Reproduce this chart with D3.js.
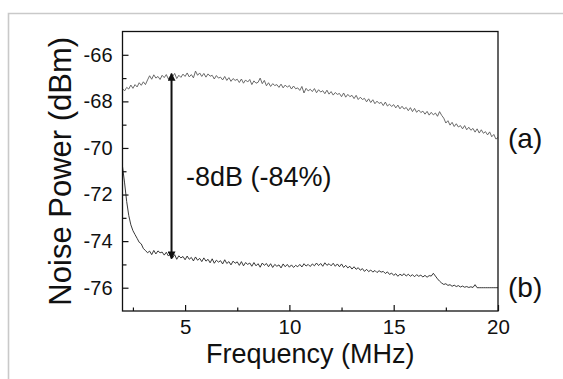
<!DOCTYPE html>
<html><head><meta charset="utf-8">
<script src="https://cdn.jsdelivr.net/npm/d3@7/dist/d3.min.js"></script>
<style>
html,body{margin:0;padding:0;background:#fff;}
text{font-family:"Liberation Sans",Arial,Helvetica,sans-serif;fill:#111;}
</style></head>
<body><svg id="c" width="563" height="379"></svg>
<script>
// ---- data ----
const xDomain = [2, 20];
const yDomain = [-77, -65];
const xTicks = [5, 10, 15, 20];
const xMinorTicks = [2.5, 7.5, 12.5, 17.5];
const yTicks = [-66, -68, -70, -72, -74, -76];
const yMinorTicks = [-67, -69, -71, -73, -75];
const freqStart = 2.0, freqStep = 0.1; // sample grid of the traces (MHz)
const seriesA = [
-67.45,-67.55,-67.40,-67.47,-67.30,-67.44,-67.28,-67.38,-67.20,-67.31,
-67.16,-67.28,-67.08,-66.90,-67.05,-66.86,-67.00,-66.93,-67.06,-66.88,
-66.98,-66.85,-67.04,-66.90,-66.94,-66.80,-67.02,-66.88,-66.97,-66.83,
-66.93,-66.78,-66.95,-66.85,-66.99,-66.70,-66.88,-66.78,-66.93,-66.80,
-66.96,-66.82,-66.92,-66.88,-67.04,-66.89,-67.00,-66.96,-67.08,-66.93,
-67.10,-66.98,-67.14,-67.02,-67.10,-67.05,-67.19,-67.04,-67.22,-67.08,
-67.17,-67.06,-67.28,-67.12,-67.22,-67.18,-67.00,-67.24,-67.10,-67.33,
-67.20,-67.36,-67.24,-67.32,-67.28,-67.40,-67.26,-67.42,-67.30,-67.39,
-67.32,-67.47,-67.34,-67.46,-67.42,-67.53,-67.36,-67.64,-67.44,-67.55,
-67.48,-67.58,-67.45,-67.63,-67.50,-67.60,-67.54,-67.67,-67.52,-67.69,
-67.58,-67.73,-67.62,-67.70,-67.66,-67.80,-67.64,-67.82,-67.70,-67.80,
-67.74,-67.88,-67.74,-67.92,-67.82,-67.92,-67.87,-68.02,-67.89,-68.05,
-67.93,-68.10,-67.99,-68.09,-68.04,-68.18,-68.03,-68.20,-68.12,-68.22,
-68.14,-68.28,-68.16,-68.32,-68.21,-68.33,-68.26,-68.40,-68.27,-68.44,
-68.30,-68.47,-68.37,-68.48,-68.42,-68.55,-68.43,-68.59,-68.47,-68.58,
-68.50,-68.64,-68.44,-68.60,-68.72,-68.93,-68.83,-69.02,-68.90,-69.08,
-68.96,-69.10,-69.04,-69.18,-69.04,-69.22,-69.11,-69.24,-69.16,-69.32,
-69.18,-69.36,-69.22,-69.37,-69.30,-69.44,-69.31,-69.52,-69.42,-69.62,
-69.55];
const seriesB = [
-70.80,-71.50,-72.30,-72.90,-73.30,-73.55,-73.72,-73.88,-74.05,-74.12,
-74.32,-74.40,-74.50,-74.43,-74.58,-74.40,-74.55,-74.42,-74.50,-74.47,
-74.60,-74.48,-74.64,-74.55,-74.72,-74.58,-74.78,-74.63,-74.72,-74.66,
-74.80,-74.64,-74.78,-74.70,-74.85,-74.68,-74.82,-74.74,-74.88,-74.72,
-74.86,-74.78,-74.93,-74.76,-74.95,-74.82,-74.90,-74.84,-74.98,-74.80,
-74.96,-74.88,-75.02,-74.86,-74.95,-74.89,-75.04,-74.88,-75.06,-74.92,
-75.00,-74.94,-75.08,-74.92,-75.06,-74.97,-75.12,-74.94,-75.04,-74.96,
-75.10,-74.97,-75.13,-75.00,-75.08,-75.02,-75.15,-74.98,-75.10,-75.00,
-75.12,-75.02,-75.13,-75.04,-75.10,-75.00,-75.11,-74.97,-75.07,-75.00,
-75.09,-74.98,-75.06,-74.94,-75.05,-74.96,-75.08,-74.93,-75.04,-74.97,
-75.06,-74.95,-75.08,-74.98,-75.10,-74.98,-75.13,-75.04,-75.15,-75.08,
-75.20,-75.10,-75.21,-75.14,-75.25,-75.18,-75.30,-75.21,-75.31,-75.24,
-75.33,-75.26,-75.35,-75.27,-75.33,-75.30,-75.39,-75.32,-75.43,-75.37,
-75.47,-75.40,-75.51,-75.42,-75.48,-75.40,-75.50,-75.42,-75.51,-75.44,
-75.53,-75.44,-75.51,-75.46,-75.54,-75.47,-75.55,-75.48,-75.50,-75.38,
-75.50,-75.62,-75.72,-75.80,-75.86,-75.83,-75.90,-75.87,-75.94,-75.89,
-75.95,-75.91,-75.97,-75.93,-75.98,-75.95,-75.99,-75.96,-75.99,-75.87,
-76.00,-76.00,-76.00,-76.00,-76.00,-76.00,-76.00,-76.00,-76.00,-76.00,
-76.00];
const arrowFreq = 4.35;
const arrowTop = -66.81, arrowBottom = -74.75;
const annotation = "-8dB (-84%)";
const seriesLabels = ["(a)", "(b)"];
const xTitle = "Frequency (MHz)";
const yTitle = "Noise Power (dBm)";

// ---- layout ----
const svg = d3.select("#c");
const L = 122.5, R = 498, T = 31.5, B = 311;
const x = d3.scaleLinear().domain(xDomain).range([L, R]);
const y = d3.scaleLinear().domain(yDomain).range([B, T]);

// outer light frame
svg.append("path").attr("d", "M8.5,379 L8.5,13.5 L563,13.5")
  .attr("fill","none").attr("stroke","#c9c9c9").attr("stroke-width",1.6);

const toPts = arr => arr.map((v,i)=>[freqStart + i*freqStep, v]);
const line = d3.line().x(d=>x(d[0])).y(d=>y(d[1]));

svg.append("path").datum(toPts(seriesA)).attr("d", line)
  .attr("fill","none").attr("stroke","#5a5a5a").attr("stroke-width",0.9);
svg.append("path").datum(toPts(seriesB)).attr("d", line)
  .attr("fill","none").attr("stroke","#222").attr("stroke-width",0.9);

// frame box
svg.append("rect").attr("x",L).attr("y",T).attr("width",R-L).attr("height",B-T)
  .attr("fill","none").attr("stroke","#111").attr("stroke-width",1.3);

// axes
const fmt = d => d3.format("d")(d).replace("\u2212","-");
const xAxis = svg.append("g").attr("transform",`translate(0,${B})`)
  .call(d3.axisBottom(x).tickValues(xTicks).tickSize(-6).tickPadding(8).tickFormat(fmt));
const xMinor = svg.append("g").attr("transform",`translate(0,${B})`)
  .call(d3.axisBottom(x).tickValues(xMinorTicks).tickSize(-3.5).tickFormat(""));
const yAxis = svg.append("g").attr("transform",`translate(${L},0)`)
  .call(d3.axisLeft(y).tickValues(yTicks).tickSize(-6).tickPadding(10).tickFormat(fmt));
const yMinor = svg.append("g").attr("transform",`translate(${L},0)`)
  .call(d3.axisLeft(y).tickValues(yMinorTicks).tickSize(-4).tickFormat(""));
[xAxis,xMinor,yAxis,yMinor].forEach(g=>{
  g.select(".domain").remove();
  g.selectAll("line").attr("stroke","#111").attr("stroke-width",1.2);
});
xAxis.selectAll("text").attr("font-size",20.5).attr("fill","#111").attr("dy","0.71em");
yAxis.selectAll("text").attr("font-size",20).attr("fill","#111").attr("x",-10);

// titles
svg.append("text").attr("x",(L+R)/2).attr("y",363).attr("text-anchor","middle")
  .attr("font-size",27).text(xTitle);
svg.append("text").attr("transform",`translate(71,${(T+B)/2}) rotate(-90)`)
  .attr("text-anchor","middle").attr("font-size",31).text(yTitle);

// arrow
const defs = svg.append("defs");
defs.append("marker").attr("id","ah").attr("viewBox","0 0 10 10").attr("refX",9).attr("refY",5)
  .attr("markerWidth",4).attr("markerHeight",4).attr("orient","auto-start-reverse")
  .append("path").attr("d","M0,0 L10,5 L0,10 z").attr("fill","#111");
svg.append("line").attr("x1",x(arrowFreq)).attr("x2",x(arrowFreq))
  .attr("y1",y(arrowTop)).attr("y2",y(arrowBottom))
  .attr("stroke","#111").attr("stroke-width",2)
  .attr("marker-start","url(#ah)").attr("marker-end","url(#ah)");

svg.append("text").attr("x",186).attr("y",186).attr("font-size",27).text(annotation);

// series labels
svg.append("text").attr("x",508).attr("y",148).attr("font-size",28).text(seriesLabels[0]);
svg.append("text").attr("x",508).attr("y",297).attr("font-size",28).text(seriesLabels[1]);
</script>
</body></html>
